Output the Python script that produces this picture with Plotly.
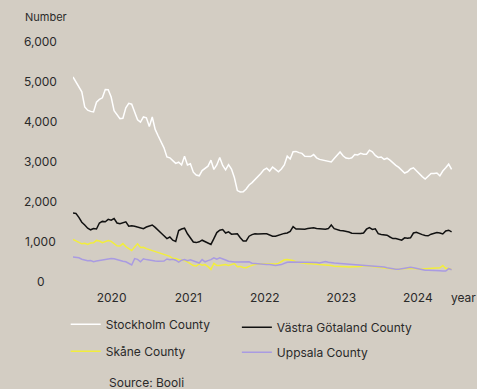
import pandas as pd
import plotly.graph_objects as go

# Fortnightly listings count per county, from July 2019
dates = pd.date_range("2019-07-01", periods=130, freq="14D")

stockholm = [
    5100, 4980, 4850, 4730, 4350, 4270, 4240, 4225, 4470, 4540,
    4580, 4785, 4780, 4600, 4260, 4150, 4060, 4070, 4330, 4440,
    4420, 4225, 4030, 3970, 4100, 4080, 3860, 4100, 3790, 3630,
    3480, 3330, 3100, 3080, 3010, 2940, 2970, 2900, 3120, 2900,
    2930, 2720, 2650, 2630, 2760, 2820, 2870, 3020, 2790, 2900,
    3090, 2890, 2780, 2910, 2800, 2580, 2260, 2225, 2230, 2300,
    2400, 2460, 2530, 2620, 2690, 2780, 2820, 2750, 2850, 2790,
    2730, 2800, 2900, 3120, 3050, 3230, 3240, 3210, 3190, 3120,
    3110, 3110, 3160, 3080, 3040, 3020, 3000, 2990, 2975, 3060,
    3150, 3225, 3130, 3075, 3060, 3080, 3160, 3150, 3190, 3170,
    3170, 3270, 3230, 3140, 3090, 3100, 3040, 3070, 3020, 2950,
    2890, 2840, 2770, 2700, 2730, 2800, 2830, 2750, 2680, 2610,
    2550, 2620, 2690, 2690, 2700, 2630, 2750, 2830, 2920, 2790,
]

vastra_gotaland = [
    1700, 1690, 1590, 1470, 1400, 1320, 1280, 1310, 1300, 1450,
    1490, 1480, 1540, 1520, 1560, 1450, 1430, 1460, 1480, 1370,
    1380, 1370, 1350, 1340, 1310, 1350, 1370, 1400, 1340, 1260,
    1200, 1130, 1060, 1100, 1020, 990, 1260, 1300, 1320, 1180,
    1060, 975, 960, 980, 1020, 990, 950, 915, 1060, 1210,
    1270, 1285, 1200, 1230, 1170, 1170, 1180, 1080, 1000, 1000,
    1120, 1160, 1180, 1175, 1170, 1180, 1180, 1140, 1120, 1120,
    1150, 1170, 1190, 1200, 1240, 1360, 1300, 1300, 1290, 1295,
    1310, 1320, 1330, 1315, 1310, 1310, 1295, 1310, 1400, 1310,
    1285, 1265, 1255, 1245, 1225, 1195, 1190, 1200, 1190, 1200,
    1295, 1335, 1290, 1305, 1185, 1165, 1155, 1145, 1100, 1060,
    1060, 1045, 1020, 1080, 1070, 1080, 1200, 1220, 1185, 1160,
    1140, 1130, 1170, 1195, 1210, 1200, 1175, 1250, 1270, 1230,
]

skane = [
    1040, 1005, 980, 930, 945, 915, 950, 955, 1015, 1000,
    960, 990, 1010, 990, 930, 880, 875, 935, 860, 820,
    760, 850, 930, 840, 845, 810, 785, 770, 740, 710,
    695, 670, 635, 615, 560, 560, 530, 530, 515, 480,
    430, 385, 375, 430, 395, 410, 360, 290, 440, 390,
    385, 400, 410, 390, 405, 435, 355, 365, 340, 330,
    365, 395, 415, 430, 430, 420, 415, 415, 415, 425,
    440, 480, 530, 535, 530, 515, 475, 460, 450, 440,
    430, 430, 425, 415, 405, 395, 390, 390, 385, 370,
    370, 370, 365, 355, 350, 350, 350, 350, 365, 385,
    380, 370, 365, 355, 350, 340, 325, 315, 310, 305,
    295, 290, 305, 315, 325, 320, 310, 300, 290, 295,
    305, 310, 310, 310, 315, 330, 385, 310, 320, 285,
]

uppsala = [
    600, 590, 580, 545, 515, 505, 510, 480, 500, 515,
    530, 535, 550, 560, 555, 530, 510, 495, 480, 445,
    400, 560, 540, 480, 555, 535, 520, 505, 500, 495,
    490, 500, 550, 530, 545, 520, 470, 520, 535, 505,
    530, 505, 470, 450, 535, 480, 510, 535, 580, 545,
    580, 560, 525, 495, 480, 475, 475, 475, 475, 490,
    480, 445, 435, 425, 415, 412, 410, 410, 400, 390,
    400, 410, 440, 470, 475, 475, 475, 475, 475, 475,
    475, 475, 470, 460, 450, 460, 485, 470, 455, 450,
    445, 440, 435, 430, 425, 420, 415, 405, 400, 390,
    390, 390, 388, 380, 375, 365, 350, 330, 315, 305,
    295, 295, 310, 325, 335, 345, 330, 315, 290, 270,
    270, 270, 270, 270, 265, 255, 250, 250, 310, 280,
]

series_names = ["Stockholm County", "Västra Götaland County", "Skåne County", "Uppsala County"]
series_values = [stockholm, vastra_gotaland, skane, uppsala]
series_colors = ["#ffffff", "#111111", "#f2ee3c", "#a99be2"]

year_ticks = ["2020-01-01", "2021-01-01", "2022-01-01", "2023-01-01", "2024-01-01"]
year_labels = ["2020", "2021", "2022", "2023", "2024"]
y_ticks = [0, 1000, 2000, 3000, 4000, 5000, 6000]

W, H = 477, 389
L, R, T, B = 73.3, 21.1, 40.7, 108.3
PW, PH = W - L - R, H - T - B


def px_x(px):
    return (px - L) / PW


def px_y(py):
    return (H - B - py) / PH


BG = "#d3cdc3"
TXT = "#2a2a2a"
FONT = "Inter"

fig = go.Figure()
legend_ids = ["legend", "legend2", "legend3", "legend4"]
for name, vals, col, lg in zip(series_names, series_values, series_colors, legend_ids):
    fig.add_trace(go.Scatter(
        x=dates, y=vals, name=name, mode="lines",
        line=dict(color=col, width=1.5), legend=lg,
    ))

# legend entries laid out in two columns
legend_pos = [(66, 324), (237, 327), (66, 351), (237, 352)]
legend_layout = {}
for lg, (lx, ly) in zip(legend_ids, legend_pos):
    legend_layout[lg] = dict(
        x=px_x(lx), y=px_y(ly), xanchor="left", yanchor="middle",
        bgcolor="rgba(0,0,0,0)", borderwidth=0,
        font=dict(family=FONT, size=12, color=TXT),
        orientation="h",
    )

annotations = []
for v in y_ticks:
    annotations.append(dict(
        x=px_x(41), xref="paper", y=v, yref="y", text=f"{v:,}",
        showarrow=False, xanchor="center", yanchor="middle",
        font=dict(family=FONT, size=12, color=TXT),
    ))
annotations += [
    dict(x=px_x(23), y=px_y(17), xref="paper", yref="paper", text="Number",
         showarrow=False, xanchor="left", yanchor="middle",
         font=dict(family=FONT, size=11, color=TXT)),
    dict(x=px_x(463), y=px_y(297), xref="paper", yref="paper", text="year",
         showarrow=False, xanchor="center", yanchor="middle",
         font=dict(family=FONT, size=12, color=TXT)),
    dict(x=px_x(107), y=px_y(382), xref="paper", yref="paper", text="Source: Booli",
         showarrow=False, xanchor="left", yanchor="middle",
         font=dict(family=FONT, size=12, color=TXT)),
]

fig.update_layout(
    width=W, height=H,
    margin=dict(l=L, r=R, t=T, b=B, pad=0),
    paper_bgcolor=BG, plot_bgcolor=BG,
    font=dict(family=FONT, size=12, color=TXT),
    showlegend=True,
    annotations=annotations,
    **legend_layout,
)
fig.update_xaxes(
    range=["2019-07-01", "2024-07-01"],
    tickvals=year_ticks, ticktext=year_labels,
    showgrid=False, zeroline=False, showline=False, ticks="",
    ticklabelstandoff=8,
    tickfont=dict(family=FONT, size=12, color=TXT),
)
fig.update_yaxes(
    range=[0, 6000], showgrid=False, zeroline=False, showline=False,
    showticklabels=False, ticks="",
)

fig.write_html("out.html")
